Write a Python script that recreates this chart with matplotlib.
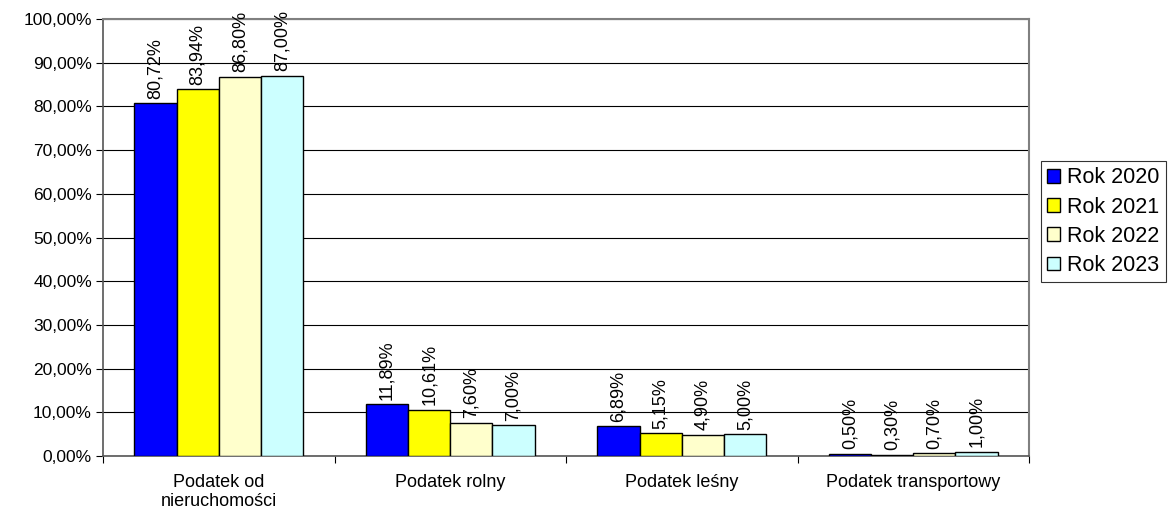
import numpy as np
import matplotlib
matplotlib.use('Agg')
import matplotlib.pyplot as plt
from matplotlib.ticker import FuncFormatter, MultipleLocator

categories = ['Podatek od\nnieruchomości', 'Podatek rolny', 'Podatek leśny', 'Podatek transportowy']
series_names = ['Rok 2020', 'Rok 2021', 'Rok 2022', 'Rok 2023']
rok_2020 = [80.72, 11.89, 6.89, 0.50]
rok_2021 = [83.94, 10.61, 5.15, 0.30]
rok_2022 = [86.80, 7.60, 4.90, 0.70]
rok_2023 = [87.00, 7.00, 5.00, 1.00]
colors = ['#0000FF', '#FFFF00', '#FFFFCC', '#CCFFFF']

plt.rcParams['font.family'] = ['Liberation Sans', 'DejaVu Sans']

fig = plt.figure(figsize=(11.73, 5.13), dpi=100)
ax = fig.add_axes([103 / 1173, 1 - 456 / 513, (1029 - 103) / 1173, (456 - 19) / 513])

x = np.arange(len(categories))
bar_w = 0.182
all_series = [rok_2020, rok_2021, rok_2022, rok_2023]

for i, (vals, name, col) in enumerate(zip(all_series, series_names, colors)):
    pos = x + (i - 1.5) * bar_w
    bars = ax.bar(pos, vals, width=bar_w, color=col, edgecolor='black',
                  linewidth=1, label=name, zorder=3)
    for b, v in zip(bars, vals):
        ax.text(b.get_x() + b.get_width() / 2, v + 1.0,
                f'{v:.2f}%'.replace('.', ','), rotation=90,
                ha='center', va='bottom', fontsize=13, zorder=4)

ax.set_xlim(-0.5, len(categories) - 0.5)
ax.set_ylim(0, 100)
ax.yaxis.set_major_locator(MultipleLocator(10))
ax.yaxis.set_major_formatter(FuncFormatter(lambda v, p: f'{v:.2f}%'.replace('.', ',')))
ax.grid(axis='y', color='black', linewidth=0.8, zorder=0)

# category labels between boundary ticks
ax.set_xticks(np.arange(len(categories) + 1) - 0.5)
ax.set_xticklabels([])
ax.set_xticks(x, minor=True)
ax.set_xticklabels(categories, minor=True, fontsize=13, linespacing=1.15)
ax.tick_params(axis='x', which='minor', length=0, pad=13)
ax.tick_params(axis='x', which='major', length=5, direction='out')
ax.tick_params(axis='y', length=5, labelsize=12.5, pad=3)

for s in ['top', 'right']:
    ax.spines[s].set_color('#808080')
    ax.spines[s].set_linewidth(1.5)
for s in ['left', 'bottom']:
    ax.spines[s].set_color('#555555')
    ax.spines[s].set_linewidth(1.2)

leg = ax.legend(loc='upper left', bbox_to_anchor=(1041 / 1173, 1 - 161 / 513),
                bbox_transform=fig.transFigure, fontsize=15.5, frameon=True,
                fancybox=False, edgecolor='black', handlelength=0.6,
                handleheight=0.6, handletextpad=0.3, borderpad=0.3,
                labelspacing=0.38, borderaxespad=0)
leg.get_frame().set_linewidth(0.8)

fig.savefig('out.png', dpi=100)
